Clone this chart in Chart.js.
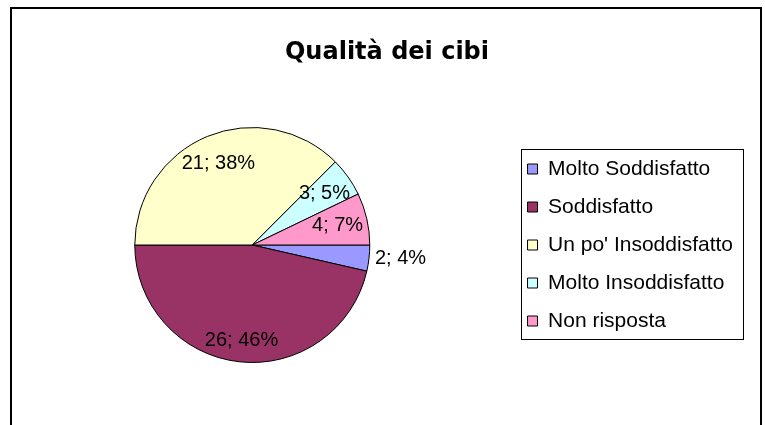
<!DOCTYPE html>
<html lang="it">
<head>
    <meta charset="UTF-8">
    <title>Qualità dei cibi</title>
    <script src="https://cdn.jsdelivr.net/npm/chart.js"></script>
    <style>
        body {
            margin: 0;
            background: #fff;
            overflow: hidden;
        }

        .frame {
            position: absolute;
            left: 10px;
            top: 7px;
            width: 752px;
            height: 440px;
            box-sizing: border-box;
            border: 2px solid #000;
            border-bottom: none;
        }

        #pie {
            position: absolute;
            left: -6px;
            top: 0;
        }
    </style>
</head>
<body>
    <div class="frame"></div>
    <canvas id="pie" width="771" height="425"></canvas>

    <script>
        const chartTitle = 'Qualità dei cibi';
        const categories = ['Molto Soddisfatto', 'Soddisfatto', "Un po' Insoddisfatto", 'Molto Insoddisfatto', 'Non risposta'];
        const answers = [2, 26, 21, 3, 4];
        const sliceColors = ['#9999FF', '#993366', '#FFFFCC', '#CCFFFF', '#FF99CC'];

        const labelFont = '20px "Liberation Sans", Arial, sans-serif';

        // title drawn over the whole frame, not over the pie area
        const frameTitle = {
            id: 'frameTitle',
            afterDraw(chart) {
                const ctx = chart.ctx;
                ctx.save();
                ctx.font = 'bold 24px "DejaVu Sans", sans-serif';
                ctx.fillStyle = '#000';
                ctx.textAlign = 'center';
                ctx.textBaseline = 'alphabetic';
                ctx.fillText(chartTitle, 393, 59);
                ctx.restore();
            }
        };

        // "value; percent" labels, pushed out as far as they fit
        const sliceLabels = {
            id: 'sliceLabels',
            afterDatasetsDraw(chart) {
                const ctx = chart.ctx;
                const meta = chart.getDatasetMeta(0);
                const total = answers.reduce((a, b) => a + b, 0);
                ctx.save();
                ctx.font = labelFont;
                ctx.fillStyle = '#000';
                meta.data.forEach((arc, i) => {
                    const {x, y, startAngle, endAngle, outerRadius} =
                        arc.getProps(['x', 'y', 'startAngle', 'endAngle', 'outerRadius'], true);
                    const mid = (startAngle + endAngle) / 2;
                    const share = answers[i] / total;
                    const text = answers[i] + '; ' + Math.round(share * 100) + '%';
                    const w = ctx.measureText(text).width;
                    const h = 15;
                    if (share < 0.045) {
                        ctx.textAlign = 'left';
                        ctx.textBaseline = 'middle';
                        ctx.fillText(text, x + (outerRadius + 6) * Math.cos(mid), y + (outerRadius + 6) * Math.sin(mid));
                        return;
                    }
                    const fits = t => [[-1, -1], [1, -1], [-1, 1], [1, 1]].every(([sx, sy]) =>
                        Math.hypot(t * Math.cos(mid) + sx * w / 2, t * Math.sin(mid) + sy * h / 2) <= outerRadius - 3);
                    let t = outerRadius;
                    while (t > 0 && !fits(t)) t -= 1;
                    ctx.textAlign = 'center';
                    ctx.textBaseline = 'middle';
                    ctx.fillText(text, x + t * Math.cos(mid), y + t * Math.sin(mid));
                });
                ctx.restore();
            }
        };

        // Excel-like box round the legend
        const legendFrame = {
            id: 'legendFrame',
            afterDraw(chart) {
                const boxes = chart.legend.legendHitBoxes;
                if (!boxes || !boxes.length) return;
                const left = Math.min(...boxes.map(b => b.left)) - 7;
                const right = Math.max(...boxes.map(b => b.left + b.width)) + 10;
                const top = Math.min(...boxes.map(b => b.top)) - 10;
                const bottom = Math.max(...boxes.map(b => b.top + b.height)) + 7;
                const ctx = chart.ctx;
                ctx.save();
                ctx.strokeStyle = '#000';
                ctx.lineWidth = 1;
                ctx.strokeRect(Math.round(left) + 0.5, Math.round(top) + 0.5,
                    Math.round(right - left), Math.round(bottom - top));
                ctx.restore();
            }
        };

        const ctx = document.getElementById('pie').getContext('2d');
        new Chart(ctx, {
            type: 'pie',
            data: {
                labels: categories,
                datasets: [{
                    data: answers,
                    backgroundColor: sliceColors,
                    borderColor: '#000',
                    borderWidth: 1
                }]
            },
            options: {
                responsive: false,
                animation: false,
                events: [],
                rotation: 90,
                layout: {
                    padding: {left: 0, right: 22, top: 127, bottom: 62}
                },
                plugins: {
                    title: {display: false},
                    tooltip: {enabled: false},
                    legend: {
                        position: 'right',
                        labels: {
                            color: '#000',
                            boxWidth: 10,
                            boxHeight: 10,
                            padding: 17,
                            font: {family: '"Liberation Sans", Arial, sans-serif', size: 21}
                        }
                    }
                }
            },
            plugins: [sliceLabels, legendFrame, frameTitle]
        });
    </script>
</body>
</html>
